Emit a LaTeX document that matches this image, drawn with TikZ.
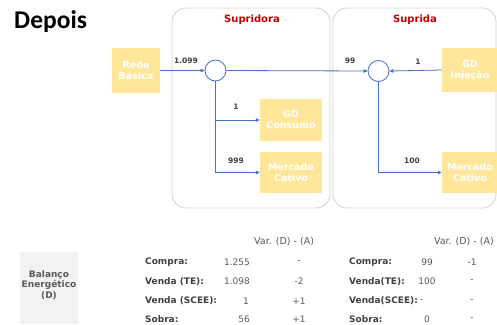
\documentclass[tikz,border=0pt]{standalone}
\usepackage{fontspec}
\setmainfont{DejaVu Sans}
\newfontfamily\titlefont{Carlito}
\usetikzlibrary{arrows.meta}
\definecolor{flowblue}{HTML}{4472C4}
\definecolor{boxyellow}{HTML}{FFE699}
\definecolor{panelgray}{HTML}{D0D0D0}
\definecolor{darktext}{HTML}{404040}
\definecolor{valtext}{HTML}{595959}
\definecolor{headred}{HTML}{C00000}
\definecolor{sidegray}{HTML}{F2F2F2}
\tikzset{
  panel/.style={draw=panelgray, line width=0.8pt, rounded corners=14pt},
  panelhead/.style={text=headred, font=\bfseries\fontsize{10}{11}\selectfont},
  ybox/.style={fill=boxyellow, draw=none, text=white, align=center, inner sep=0pt,
    font=\bfseries\fontsize{9.5}{11}\selectfont},
  junction/.style={circle, draw=flowblue, line width=0.8pt, fill=white, minimum size=21pt, inner sep=0pt},
  flow/.style={draw=flowblue, line width=0.8pt, -{Triangle[length=4pt,width=3.6pt]}},
  qty/.style={text=darktext, font=\bfseries\fontsize{7.5}{8}\selectfont, inner sep=0pt},
  rowlab/.style={anchor=west, text=darktext, font=\bfseries\fontsize{9}{10}\selectfont, inner sep=0pt},
  rowval/.style={text=valtext, font=\fontsize{9}{10}\selectfont, inner sep=0pt},
  varhead/.style={text=valtext, font=\fontsize{9.5}{10}\selectfont, inner sep=0pt},
}
\begin{document}
\begin{tikzpicture}[x=1pt, y=-1pt]
\useasboundingbox (0,0) rectangle (497,324);

% title
\node[anchor=west, inner sep=0pt, font=\titlefont\bfseries\fontsize{25.5}{27}\selectfont] (title) at (14,22) {Depois};

% company panels
\draw[panel] (172,8) rectangle (330,208);
\draw[panel] (333,8) rectangle (496,208);
\node[panelhead] (hsup) at (252,20) {Supridora};
\node[panelhead] (hsupd) at (415,20) {Suprida};

% boxes
\node[ybox, minimum width=48pt, minimum height=45pt] (rb) at (136,70.5) {Rede\\Básica};
\node[ybox, minimum width=62pt, minimum height=42pt] (gdc) at (291,120) {GD\\Consumo};
\node[ybox, minimum width=62pt, minimum height=41pt] (mc1) at (291,172.5) {Mercado\\Cativo};
\node[ybox, minimum width=56pt, minimum height=44pt] (gdi) at (470,70) {GD\\Injeção};
\node[ybox, minimum width=56pt, minimum height=41pt] (mc2) at (470,172.5) {Mercado\\Cativo};

% junctions
\node[junction] (c1) at (215.5,70.5) {};
\node[junction] (c2) at (378.5,71) {};

% flows
\draw[flow] (rb.east) -- (c1.west);
\draw[flow] (c1.east) -- (c2.west);
\draw[flow] (gdi.west) -- (c2.east);
\draw[flow] (c1.south) |- (gdc.west);
\draw[flow] (c1.south) |- (mc1.west);
\draw[flow] (c2.south) |- (mc2.west);

% flow quantities
\node[qty] (q1) at (186,61) {1.099};
\node[qty] (q2) at (350,61) {99};
\node[qty] (q3) at (418,62) {1};
\node[qty] (q4) at (236,107) {1};
\node[qty] (q5) at (236,161) {999};
\node[qty] (q6) at (412,161) {100};

% energy balance
\fill[sidegray] (20,252) rectangle (78,324);
\node[align=center, text=valtext, inner sep=0pt, font=\bfseries\fontsize{9}{10.5}\selectfont] (bal) at (49,285) {Balanço\\Energético\\(D)};

\node[varhead, anchor=west] (vh1) at (254,242) {Var. (D) - (A)};
\node[varhead, anchor=east] (vh2) at (494,242) {Var. (D) - (A)};

\node[rowlab] (l1) at (145,262) {Compra:};
\node[rowlab] (l2) at (145,281.5) {Venda (TE):};
\node[rowlab] (l3) at (145,301) {Venda (SCEE):};
\node[rowlab] (l4) at (145,319.5) {Sobra:};
\node[rowval, anchor=east] (v1) at (250,262) {1.255};
\node[rowval, anchor=east] (v2) at (250,281.5) {1.098};
\node[rowval, anchor=east] (v3) at (249,301) {1};
\node[rowval, anchor=east] (v4) at (250,319.5) {56};
\node[rowval] (d1) at (299,262) {-};
\node[rowval] (d2) at (299,281.5) {-2};
\node[rowval] (d3) at (299,301) {+1};
\node[rowval] (d4) at (299,319.5) {+1};

\node[rowlab] (r1) at (349,262) {Compra:};
\node[rowlab] (r2) at (349,281.5) {Venda(TE):};
\node[rowlab] (r3) at (349,301) {Venda(SCEE):};
\node[rowlab] (r4) at (349,319.5) {Sobra:};
\node[rowval] (w1) at (427,262) {99};
\node[rowval] (w2) at (427,281.5) {100};
\node[rowval, anchor=west] (w3) at (420,301) {-};
\node[rowval] (w4) at (427,319.5) {0};
\node[rowval] (e1) at (472,262) {-1};
\node[rowval] (e2) at (472,281.5) {-};
\node[rowval] (e3) at (472,301) {-};
\node[rowval] (e4) at (472,319.5) {-};
\end{tikzpicture}
\end{document}
